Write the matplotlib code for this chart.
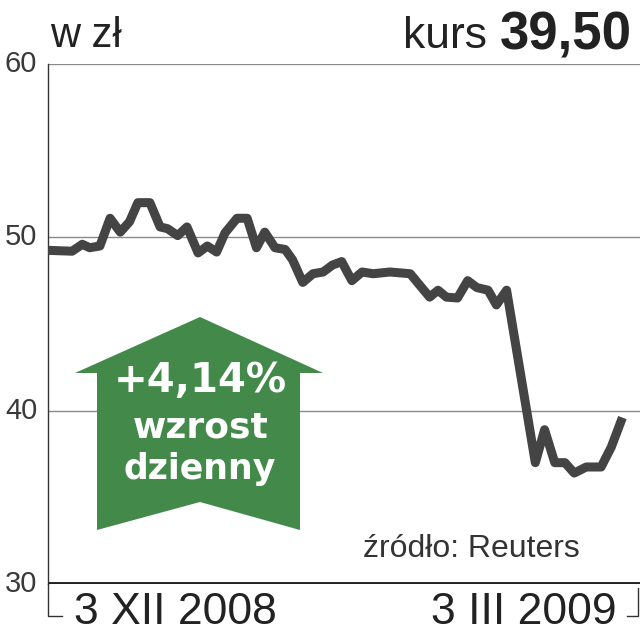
import matplotlib
matplotlib.use("Agg")
import matplotlib.pyplot as plt
from matplotlib.patches import Polygon
from matplotlib.lines import Line2D

plt.rcParams['font.family'] = ['Liberation Sans', 'DejaVu Sans']

# trading day index (approx) and closing price in zl
days = [0, 2.6, 3.7, 4.5, 5.6, 6.7, 7.8, 8.8, 9.7, 11.0, 12.1, 12.9, 14.0, 15.0,
        16.2, 17.2, 18.2, 19.1, 20.4, 21.5, 22.5, 23.4, 24.5, 25.6, 26.4, 27.5,
        28.6, 29.7, 30.7, 31.7, 32.8, 33.9, 35.1, 36.9, 39.1, 40.1, 41.2, 42.1,
        43.0, 44.2, 45.3, 46.3, 47.5, 48.4, 49.5, 52.6, 53.6, 54.7, 55.8, 56.8,
        58.1, 59.7, 60.8, 62.0]
price = [49.25, 49.2, 49.6, 49.4, 49.5, 51.1, 50.3, 50.9, 52.0, 52.0, 50.6, 50.5,
         50.1, 50.6, 49.1, 49.5, 49.15, 50.25, 51.1, 51.1, 49.4, 50.3, 49.4, 49.3,
         48.7, 47.4, 47.9, 48.0, 48.4, 48.6, 47.5, 48.0, 47.9, 48.0, 47.9, 47.25,
         46.55, 46.95, 46.55, 46.5, 47.5, 47.1, 46.95, 46.1, 46.95, 37.0, 38.9,
         37.0, 37.0, 36.4, 36.75, 36.75, 37.9, 39.6]

y_ticks = [30, 40, 50, 60]
date_labels = ["3 XII 2008", "3 III 2009"]
change_text = ["+4,14%", "wzrost", "dzienny"]
last_price = "39,50"

fig = plt.figure(figsize=(6.4, 6.4), dpi=100)
ax = fig.add_axes([48 / 640, 56 / 640, 592 / 640, 520 / 640])
ax.set_xlim(0, 63.9)
ax.set_ylim(30, 60)

for s in ['top', 'right', 'bottom']:
    ax.spines[s].set_visible(False)
ax.spines['left'].set_color('#333333')
ax.spines['left'].set_linewidth(1.0)
ax.set_xticks([])
ax.set_yticks([])

for v in [40, 50, 60]:
    ax.axhline(v, color='#8a8a8a', lw=1.0, zorder=1)
ax.axhline(30, color='#222222', lw=2.8, zorder=3)

for v in y_ticks:
    ax.text(-0.018, v, str(v), transform=ax.get_yaxis_transform(), ha='right',
            va='center', fontsize=21, color='#3a3a3a')

ax.plot(days, price, color='#444444', lw=6.5, solid_joinstyle='round',
        solid_capstyle='butt', zorder=4)

# green arrow
def P(x, y):
    return (x / 640, 1 - y / 640)
arrow = Polygon([P(200, 317), P(323, 373), P(300, 373), P(300, 530), P(200, 502),
                 P(97, 530), P(97, 373), P(75, 373)], closed=True,
                transform=fig.transFigure, facecolor='#438a4a', edgecolor='none',
                zorder=5)
fig.patches.append(arrow)
bold_font = ['DejaVu Sans']
fig.text(200 / 640, 1 - 381 / 640, change_text[0], ha='center', va='center',
         fontsize=29, fontweight='bold', color='white', family=bold_font, zorder=6)
fig.text(201 / 640, 1 - 428 / 640, change_text[1], ha='center', va='center',
         fontsize=26, fontweight='bold', color='white', family=bold_font, zorder=6)
fig.text(200 / 640, 1 - 469 / 640, change_text[2], ha='center', va='center',
         fontsize=25, fontweight='bold', color='white', family=bold_font, zorder=6)

# header
fig.text(50 / 640, 1 - 36 / 640, "w zł", ha='left', va='center', fontsize=30,
         color='#222222')
t = fig.text(632 / 640, 1 - 36 / 640, last_price, ha='right', va='center',
             fontsize=38, fontweight='bold', color='#222222')
fig.canvas.draw()
bb = t.get_window_extent()
fig.text(bb.x0 / 640 - 0.02, 1 - 36 / 640, "kurs", ha='right', va='center',
         fontsize=32, color='#222222')

fig.text(580 / 640, 1 - 549 / 640, "źródło: Reuters", ha='right', va='center',
         fontsize=23, color='#333333', zorder=6)

# bottom date labels with brackets
fig.text(74 / 640, 1 - 612 / 640, date_labels[0], ha='left', va='center',
         fontsize=32, color='#222222')
fig.text(617 / 640, 1 - 612 / 640, date_labels[1], ha='right', va='center',
         fontsize=32, color='#222222')
for xs, ys in [([48, 48, 62], [584, 616, 616]), ([638, 638, 627], [588, 616, 616])]:
    fig.lines.append(Line2D([x / 640 for x in xs], [1 - y / 640 for y in ys],
                            transform=fig.transFigure, color='#333333', lw=1.0))

fig.savefig("out.png", dpi=100, facecolor='white')
